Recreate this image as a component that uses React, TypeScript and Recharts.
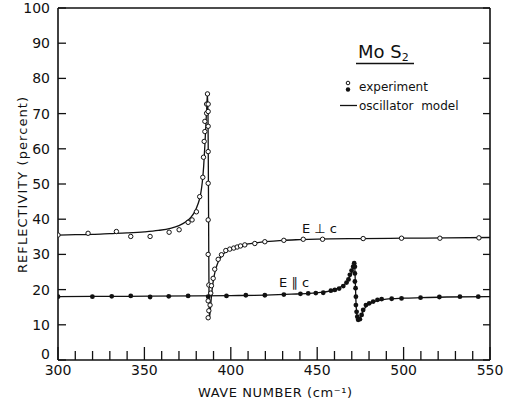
import { ComposedChart, Line, Scatter, XAxis, YAxis } from "recharts";

const waveTicks = [
  300, 310, 320, 330, 340, 350, 360, 370, 380, 390, 400, 410, 420, 430, 440,
  450, 460, 470, 480, 490, 500, 510, 520, 530, 540, 550,
];
const reflTicks = [0, 10, 20, 30, 40, 50, 60, 70, 80, 90, 100];

// E perpendicular c, measured points
const perpExpX = [
  300, 317.4, 333.8, 342.1, 353.3, 364.3, 370.1, 375.3, 377.6, 380.1, 382.0,
  383.8, 384.2, 384.6, 385.0, 385.0, 386.0, 386.0, 386.5, 386.9, 386.9, 386.9,
  386.9, 386.9, 386.9, 386.9, 387.3, 386.9, 387.3, 386.9, 388.0, 388.4, 388.8,
  389.8, 390.7, 392.7, 394.6, 397.1, 399.4, 401.7, 403.7, 405.6, 408.1, 413.9,
  419.7, 430.7, 441.9, 453.1, 476.6, 498.8, 521.0, 543.6,
];
const perpExpY = [
  35.5, 36.0, 36.5, 35.1, 35.1, 36.3, 37.0, 39.1, 39.8, 42.1, 46.4, 51.9, 57.6,
  62.1, 64.9, 67.8, 70.1, 72.7, 75.6, 72.7, 70.6, 66.4, 59.2, 50.2, 39.8, 30.0,
  21.3, 16.8, 14.0, 12.0, 15.6, 19.0, 21.1, 23.2, 25.8, 28.6, 29.9, 31.1, 31.5,
  31.8, 32.1, 32.4, 32.7, 33.1, 33.6, 34.0, 34.3, 34.3, 34.5, 34.6, 34.6, 34.7,
];

// E perpendicular c, oscillator model
const perpModelX = [
  300, 310, 320, 330, 340, 350, 358, 365, 370, 374, 377, 379, 381, 382.5, 383.5,
  384.3, 385, 385.6, 386.1, 386.5, 386.8, 387.0, 387.2, 387.4, 387.6, 388.0,
  388.6, 389.3, 390.2, 391.5, 393, 395, 397.5, 400, 405, 410, 415, 420, 430,
  440, 450, 475, 500, 525, 550,
];
const perpModelY = [
  35.5, 35.6, 35.7, 35.9, 36.1, 36.4, 36.8, 37.4, 38.2, 39.3, 40.6, 42.0, 44.3,
  47.0, 50.5, 55.0, 61.0, 67.0, 72.0, 75.6, 70.0, 55.0, 35.0, 18.0, 12.0, 13.5,
  17.0, 20.5, 23.5, 26.2, 28.2, 29.7, 30.9, 31.6, 32.5, 33.0, 33.3, 33.6, 34.0,
  34.2, 34.35, 34.5, 34.6, 34.7, 34.8,
];

// E parallel c, measured points
const paraExpX = [
  300, 319.9, 331.1, 342.1, 353.3, 364.1, 375.3, 386.9, 397.5, 408.7, 419.7,
  430.7, 440.3, 444.8, 449.2, 453.5, 457.9, 460.2, 462.7, 465.1, 467.0, 468.1,
  468.9, 469.9, 470.8, 471.4, 471.8, 471.8, 471.8, 472.2, 472.4, 472.4, 472.8,
  473.2, 473.7, 474.7, 475.7, 476.6, 478.2, 480.1, 482.4, 484.9, 487.3, 493.1,
  498.8, 509.8, 520.7, 532.6, 543.2,
];
const paraExpY = [
  18.0, 18.0, 18.1, 18.2, 17.9, 18.1, 18.2, 18.0, 18.2, 18.4, 18.4, 18.6, 18.8,
  18.9, 19.0, 19.1, 19.7, 19.9, 20.3, 21.0, 22.0, 22.9, 24.2, 25.4, 26.5, 27.5,
  26.5, 24.6, 22.3, 20.4, 18.0, 15.6, 13.7, 12.3, 11.4, 11.6, 12.8, 14.2, 15.6,
  16.1, 16.6, 17.1, 17.3, 17.4, 17.5, 17.7, 17.9, 18.0, 18.0,
];

// E parallel c, oscillator model
const paraModelX = [
  300, 340, 380, 400, 420, 435, 445, 452, 457, 461, 464, 466.5, 468.5, 470, 471,
  471.6, 472, 472.4, 472.9, 473.6, 474.4, 475.5, 477, 479, 481.5, 485, 490, 500,
  510, 525, 550,
];
const paraModelY = [
  18.0, 18.1, 18.2, 18.3, 18.45, 18.7, 18.9, 19.2, 19.6, 20.2, 20.9, 21.8, 23.3,
  25.0, 26.5, 27.8, 23.0, 17.0, 13.0, 11.2, 11.4, 12.7, 14.3, 15.5, 16.3, 16.9,
  17.3, 17.55, 17.7, 17.9, 18.0,
];

const zip = (xs: number[], ys: number[]) =>
  xs.map((x, i) => ({ x, y: ys[i] }));

const FONT = "'DejaVu Sans', sans-serif";
const INK = "#111";

function BottomTick({ x, y, payload }: any) {
  const major = payload.value % 50 === 0;
  return (
    <g>
      <line x1={x} x2={x} y1={y} y2={y - (major ? 13 : 9)} stroke={INK} strokeWidth={1.3} />
      {major && (
        <text x={x} y={y + 15} textAnchor="middle" fontSize={14} fontFamily={FONT} fill={INK}>
          {payload.value}
        </text>
      )}
    </g>
  );
}

function TopTick({ x, y, payload }: any) {
  const major = payload.value % 50 === 0;
  return (
    <line x1={x} x2={x} y1={y} y2={y + (major ? 10 : 8)} stroke={INK} strokeWidth={1.3} />
  );
}

function LeftTick({ x, y, payload }: any) {
  // the zero label sits a little high in the original, clear of "300"
  const lift = payload.value === 0 ? 6 : 0;
  return (
    <g>
      <line x1={x} x2={x + 8} y1={y} y2={y} stroke={INK} strokeWidth={1.3} />
      <text x={x - 8} y={y + 5 - lift} textAnchor="end" fontSize={14} fontFamily={FONT} fill={INK}>
        {payload.value}
      </text>
    </g>
  );
}

function RightTick({ x, y }: any) {
  return <line x1={x} x2={x - 7} y1={y} y2={y} stroke={INK} strokeWidth={1.3} />;
}

const openDot = (p: any) => (
  <circle cx={p.cx} cy={p.cy} r={2.2} fill="#fff" stroke={INK} strokeWidth={1} />
);
const solidDot = (p: any) => <circle cx={p.cx} cy={p.cy} r={2.4} fill={INK} />;

export default function App() {
  const axisLine = { stroke: INK, strokeWidth: 1.6 };
  return (
    <div style={{ position: "absolute", left: 0, top: 0, background: "#fff" }}>
      <ComposedChart
        width={505}
        height={404}
        margin={{ top: 7, right: 14, bottom: 0, left: 0 }}
      >
        <XAxis
          xAxisId="b"
          dataKey="x"
          type="number"
          domain={[300, 550]}
          ticks={waveTicks}
          interval={0}
          height={44}
          tickSize={0}
          tickMargin={0}
          tickLine={false}
          axisLine={axisLine}
          tick={<BottomTick />}
          allowDataOverflow
        />
        <XAxis
          xAxisId="t"
          orientation="top"
          type="number"
          domain={[300, 550]}
          ticks={waveTicks}
          interval={0}
          height={1}
          tickSize={0}
          tickMargin={0}
          tickLine={false}
          axisLine={axisLine}
          tick={<TopTick />}
          allowDataOverflow
        />
        <YAxis
          yAxisId="l"
          dataKey="y"
          type="number"
          domain={[0, 100]}
          ticks={reflTicks}
          interval={0}
          width={58}
          tickSize={0}
          tickMargin={0}
          tickLine={false}
          axisLine={axisLine}
          tick={<LeftTick />}
          allowDataOverflow
        />
        <YAxis
          yAxisId="r"
          orientation="right"
          type="number"
          domain={[0, 100]}
          ticks={reflTicks}
          interval={0}
          width={1}
          tickSize={0}
          tickMargin={0}
          tickLine={false}
          axisLine={axisLine}
          tick={<RightTick />}
          allowDataOverflow
        />
        <Line
          xAxisId="b"
          yAxisId="l"
          data={zip(paraModelX, paraModelY)}
          dataKey="y"
          type="monotone"
          stroke={INK}
          strokeWidth={1.3}
          dot={false}
          isAnimationActive={false}
        />
        <Line
          xAxisId="b"
          yAxisId="l"
          data={zip(perpModelX, perpModelY)}
          dataKey="y"
          type="monotone"
          stroke={INK}
          strokeWidth={1.3}
          dot={false}
          isAnimationActive={false}
        />
        <Scatter
          xAxisId="b"
          yAxisId="l"
          data={zip(paraExpX, paraExpY)}
          shape={solidDot}
          isAnimationActive={false}
        />
        <Scatter
          xAxisId="b"
          yAxisId="l"
          data={zip(perpExpX, perpExpY)}
          shape={openDot}
          isAnimationActive={false}
        />

        <text
          x={275}
          y={397}
          textAnchor="middle"
          fontSize={13}
          fontFamily={FONT}
          fill={INK}
          textLength={154}
          lengthAdjust="spacing"
        >
          WAVE NUMBER (cm⁻¹)
        </text>
        <text
          transform="translate(27,185) rotate(-90)"
          textAnchor="middle"
          fontSize={13}
          fontFamily={FONT}
          fill={INK}
          textLength={176}
          lengthAdjust="spacing"
        >
          REFLECTIVITY (percent)
        </text>

        <text x={358} y={58} fontSize={18} fontFamily={FONT} fill={INK}>
          Mo S<tspan fontSize={11} dy={3}>2</tspan>
        </text>
        <line x1={356} x2={414} y1={63.5} y2={63.5} stroke={INK} strokeWidth={1.3} />
        <circle cx={348} cy={83} r={1.8} fill="#fff" stroke={INK} strokeWidth={1} />
        <circle cx={348} cy={89.5} r={2.2} fill={INK} />
        <text x={359} y={91} fontSize={12} fontFamily={FONT} fill={INK}>
          experiment
        </text>
        <line x1={340} x2={357} y1={105.5} y2={105.5} stroke={INK} strokeWidth={1.3} />
        <text x={359} y={110} fontSize={12} fontFamily={FONT} fill={INK} style={{ whiteSpace: "pre" }}>
          oscillator  model
        </text>
        <text x={302} y={233} fontSize={13} fontFamily={FONT} fill={INK} style={{ whiteSpace: "pre" }}>
          E ⊥ c
        </text>
        <text x={279} y={287} fontSize={13} fontFamily={FONT} fill={INK} style={{ whiteSpace: "pre" }}>
          E ∥ c
        </text>
      </ComposedChart>
    </div>
  );
}
